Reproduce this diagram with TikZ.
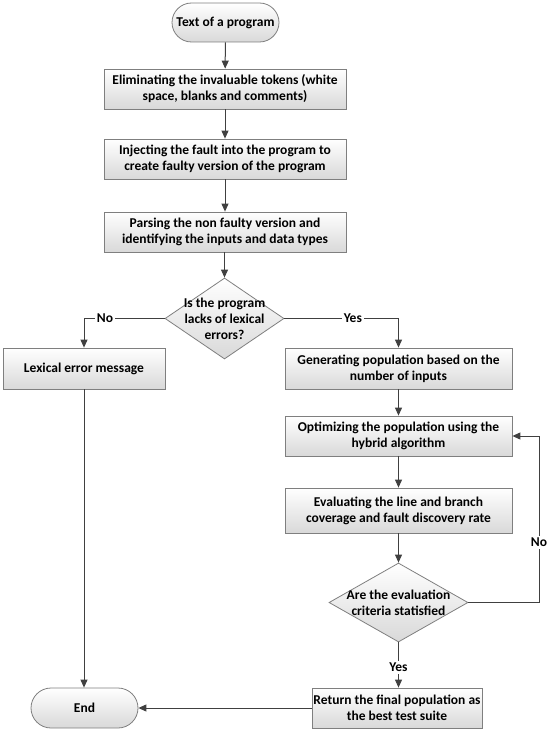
\documentclass[tikz,border=0pt]{standalone}
\usepackage{fontspec}
\setmainfont{Carlito}
\usetikzlibrary{shapes.geometric,shapes.misc,arrows.meta}
\definecolor{edge}{HTML}{7F7F7F}
\definecolor{linec}{HTML}{404040}
\tikzset{
  txt/.style={font=\bfseries\fontsize{13.5}{16}\selectfont, text=black, align=center},
  boxbase/.style={txt, draw=edge, line width=0.8pt, top color=white, bottom color=black!15, inner sep=0pt},
  procbox/.style={boxbase, rectangle, minimum width=#1, minimum height=40pt},
  termbox/.style={boxbase, rounded rectangle, minimum height=39pt},
  decbox/.style={boxbase, diamond, inner sep=0pt},
  flow/.style={draw=linec, line width=1pt, -{Triangle[length=8pt,width=7pt]}},
  lbl/.style={txt, fill=white, inner sep=2pt}
}
\begin{document}
\begin{tikzpicture}[x=1pt,y=-1pt]
\useasboundingbox (0,0) rectangle (550,733);
\node[termbox, minimum width=107pt] (start) at (225.5,22.5) {Text of a program};
\node[procbox=242pt] (b1) at (225,89) {Eliminating the invaluable tokens (white\\space, blanks and comments)};
\node[procbox=242pt] (b2) at (225,159) {Injecting the fault into the program to\\create faulty version of the program};
\node[procbox=242pt] (b3) at (225,232) {Parsing the non faulty version and\\identifying the inputs and data types};
\node[decbox, minimum width=119pt, minimum height=81pt] (d1) at (224.5,318.5) {};
\node[txt] (d1t) at (d1.center) {Is the program\\lacks of lexical\\errors?};
\node[procbox=162pt, minimum height=41pt] (lex) at (84,368.5) {Lexical error message};
\node[procbox=227pt, minimum height=41pt] (gen) at (398.5,368.5) {Generating population based on the\\number of inputs};
\node[procbox=227pt] (opt) at (398.5,436) {Optimizing the population using the\\hybrid algorithm};
\node[procbox=227pt, minimum height=45pt] (eval) at (398.5,510.5) {Evaluating the line and branch\\coverage and fault discovery rate};
\node[decbox, minimum width=139pt, minimum height=79pt] (d2) at (398.5,602.5) {};
\node[txt] (d2t) at (d2.center) {Are the evaluation\\criteria statisfied};
\node[procbox=170pt] (ret) at (397,708) {Return the final population as\\the best test suite};
\node[termbox, minimum width=107pt, minimum height=40pt] (endn) at (84.5,708) {End};
\coordinate (nl) at (84,318.5);
\coordinate (yl) at (398.5,318.5);
\coordinate (nr) at (539,602.5);
\coordinate (nt) at (539,436);
\draw[flow] (start) -- (b1);
\draw[flow] (b1) -- (b2);
\draw[flow] (b2) -- (b3);
\draw[flow] (b3.south -| d1.north) -- (d1.north);
\draw[flow] (d1.west) -- node[lbl, pos=0.74] {No} (nl) -- (lex.north);
\draw[flow] (d1.east) -- node[lbl, pos=0.6] {Yes} (yl) -- (gen.north);
\draw[flow] (gen) -- (opt);
\draw[flow] (opt) -- (eval);
\draw[flow] (eval.south -| d2.north) -- (d2.north);
\draw[flow] (d2.east) -- (nr) -- node[lbl, pos=0.36] {No} (nt) -- (opt.east);
\draw[flow] (d2.south) -- node[lbl, pos=0.55] {Yes} (ret.north -| d2.south);
\draw[flow] (ret.west) -- (endn.east);
\draw[flow] (lex.south) -- (lex.south |- endn.north);
\end{tikzpicture}
\end{document}
